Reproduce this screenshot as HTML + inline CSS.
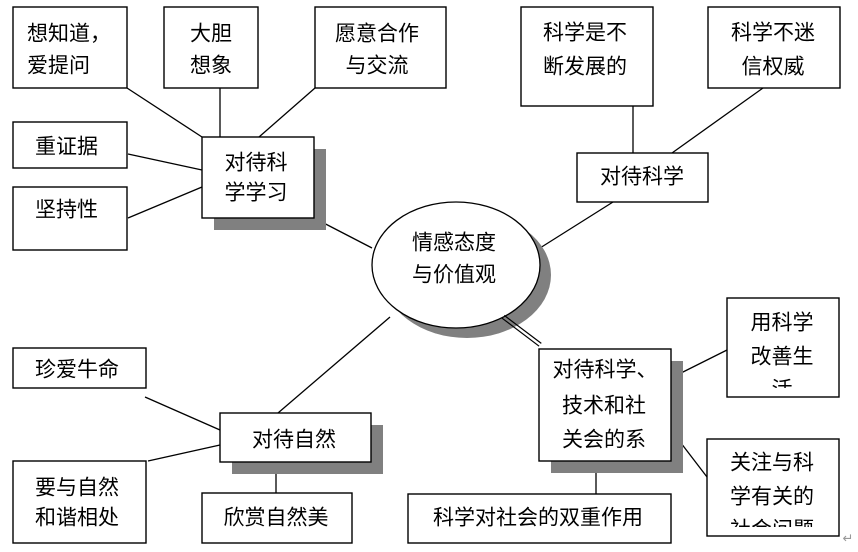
<!DOCTYPE html>
<html><head><meta charset="utf-8"><style>
html,body{margin:0;padding:0;background:#fff;}
svg{display:block;}
text{font-family:"Liberation Sans","Noto Sans CJK SC",sans-serif;font-size:21px;fill:#000;dominant-baseline:central;}
</style></head><body>
<svg width="858" height="552" viewBox="0 0 858 552" xmlns="http://www.w3.org/2000/svg">
<defs>
<clipPath id="c1"><rect x="727" y="298" width="112" height="90"/></clipPath>
<clipPath id="c2"><rect x="707" y="439" width="132" height="88"/></clipPath>
</defs>
<rect width="858" height="552" fill="#fff"/>
<g stroke="#000" stroke-width="1.3" fill="none">
<line x1="127" y1="88" x2="202" y2="137"/>
<line x1="220" y1="88" x2="220" y2="137"/>
<line x1="315" y1="88" x2="259" y2="137"/>
<line x1="128" y1="154" x2="202" y2="170"/>
<line x1="128" y1="218" x2="202" y2="187"/>
<line x1="314" y1="218" x2="372" y2="248"/>
<line x1="633" y1="106" x2="633" y2="153"/>
<line x1="763" y1="88" x2="672" y2="153"/>
<line x1="613" y1="202" x2="540" y2="248"/>
<line x1="145" y1="397" x2="220" y2="430"/>
<line x1="148" y1="461" x2="220" y2="445"/>
<line x1="278" y1="413" x2="390" y2="317"/>
<line x1="276" y1="462" x2="276" y2="493"/>
<line x1="671" y1="378" x2="727" y2="350"/>
<line x1="671" y1="430" x2="707" y2="477"/>
<line x1="596" y1="461" x2="596" y2="494"/>
</g>
<!-- shadows -->
<g fill="#808080">
<rect x="214" y="149" width="112" height="81"/>
<rect x="232" y="425" width="151" height="49"/>
<rect x="551" y="361" width="132" height="112"/>
<ellipse cx="467" cy="275" rx="84" ry="63"/>
</g>
<!-- center ellipse -->
<ellipse cx="456" cy="265" rx="84" ry="63" fill="#fff" stroke="#000" stroke-width="1.3"/>
<g stroke="#000" stroke-width="1.2">
<line x1="502.1" y1="318.2" x2="539.1" y2="346.2"/>
<line x1="504.3" y1="315.4" x2="541.3" y2="343.4"/>
</g>
<!-- boxes -->
<g fill="#fff" stroke="#000" stroke-width="1.4">
<rect x="13" y="7" width="114" height="81"/>
<rect x="164" y="7" width="94" height="81"/>
<rect x="315" y="7" width="131" height="81"/>
<rect x="13" y="122" width="114" height="46"/>
<rect x="13" y="187" width="114" height="63"/>
<rect x="202" y="137" width="112" height="81"/>
<rect x="521" y="7" width="132" height="99"/>
<rect x="708" y="7" width="132" height="81"/>
<rect x="577" y="153" width="131" height="49"/>
<rect x="13" y="348" width="133" height="40"/>
<rect x="13" y="461" width="133" height="82"/>
<rect x="220" y="413" width="151" height="49"/>
<rect x="202" y="493" width="150" height="50"/>
<rect x="539" y="349" width="132" height="112"/>
<rect x="727" y="298" width="112" height="99"/>
<rect x="707" y="439" width="132" height="97"/>
<rect x="408" y="494" width="263" height="49"/>
</g>
<!-- texts -->
<text x="27" y="34">想知道，</text>
<text x="27" y="66">爱提问</text>
<text x="211" y="34" text-anchor="middle">大胆</text>
<text x="211" y="66" text-anchor="middle">想象</text>
<text x="377" y="34" text-anchor="middle">愿意合作</text>
<text x="377" y="66" text-anchor="middle">与交流</text>
<text x="35" y="147">重证据</text>
<text x="35" y="210">坚持性</text>
<text x="256" y="163" text-anchor="middle">对待科</text>
<text x="256" y="193" text-anchor="middle">学学习</text>
<text x="585" y="33" text-anchor="middle">科学是不</text>
<text x="585" y="67" text-anchor="middle">断发展的</text>
<text x="773" y="33" text-anchor="middle">科学不迷</text>
<text x="773" y="67" text-anchor="middle">信权威</text>
<text x="642" y="177" text-anchor="middle">对待科学</text>
<text x="454" y="243" text-anchor="middle">情感态度</text>
<text x="454" y="275" text-anchor="middle">与价值观</text>
<text x="77" y="370" text-anchor="middle">珍爱牛命</text>
<text x="35" y="488">要与自然</text>
<text x="35" y="518">和谐相处</text>
<text x="294" y="440" text-anchor="middle">对待自然</text>
<text x="276" y="518" text-anchor="middle">欣赏自然美</text>
<text x="605" y="370" text-anchor="middle">对待科学、</text>
<text x="604" y="406" text-anchor="middle">技术和社</text>
<text x="604" y="440" text-anchor="middle">关会的系</text>
<text x="782" y="323" text-anchor="middle">用科学</text>
<text x="782" y="357" text-anchor="middle">改善生</text>
<text x="782" y="390" text-anchor="middle" clip-path="url(#c1)">活</text>
<text x="772" y="463" text-anchor="middle">关注与科</text>
<text x="772" y="497" text-anchor="middle">学有关的</text>
<text x="772" y="530" text-anchor="middle" clip-path="url(#c2)">社会问题</text>
<text x="538" y="518" text-anchor="middle">科学对社会的双重作用</text>
<text x="848" y="538" text-anchor="middle" style="font-size:13px;fill:#999;">↵</text>
</svg>
</body></html>
